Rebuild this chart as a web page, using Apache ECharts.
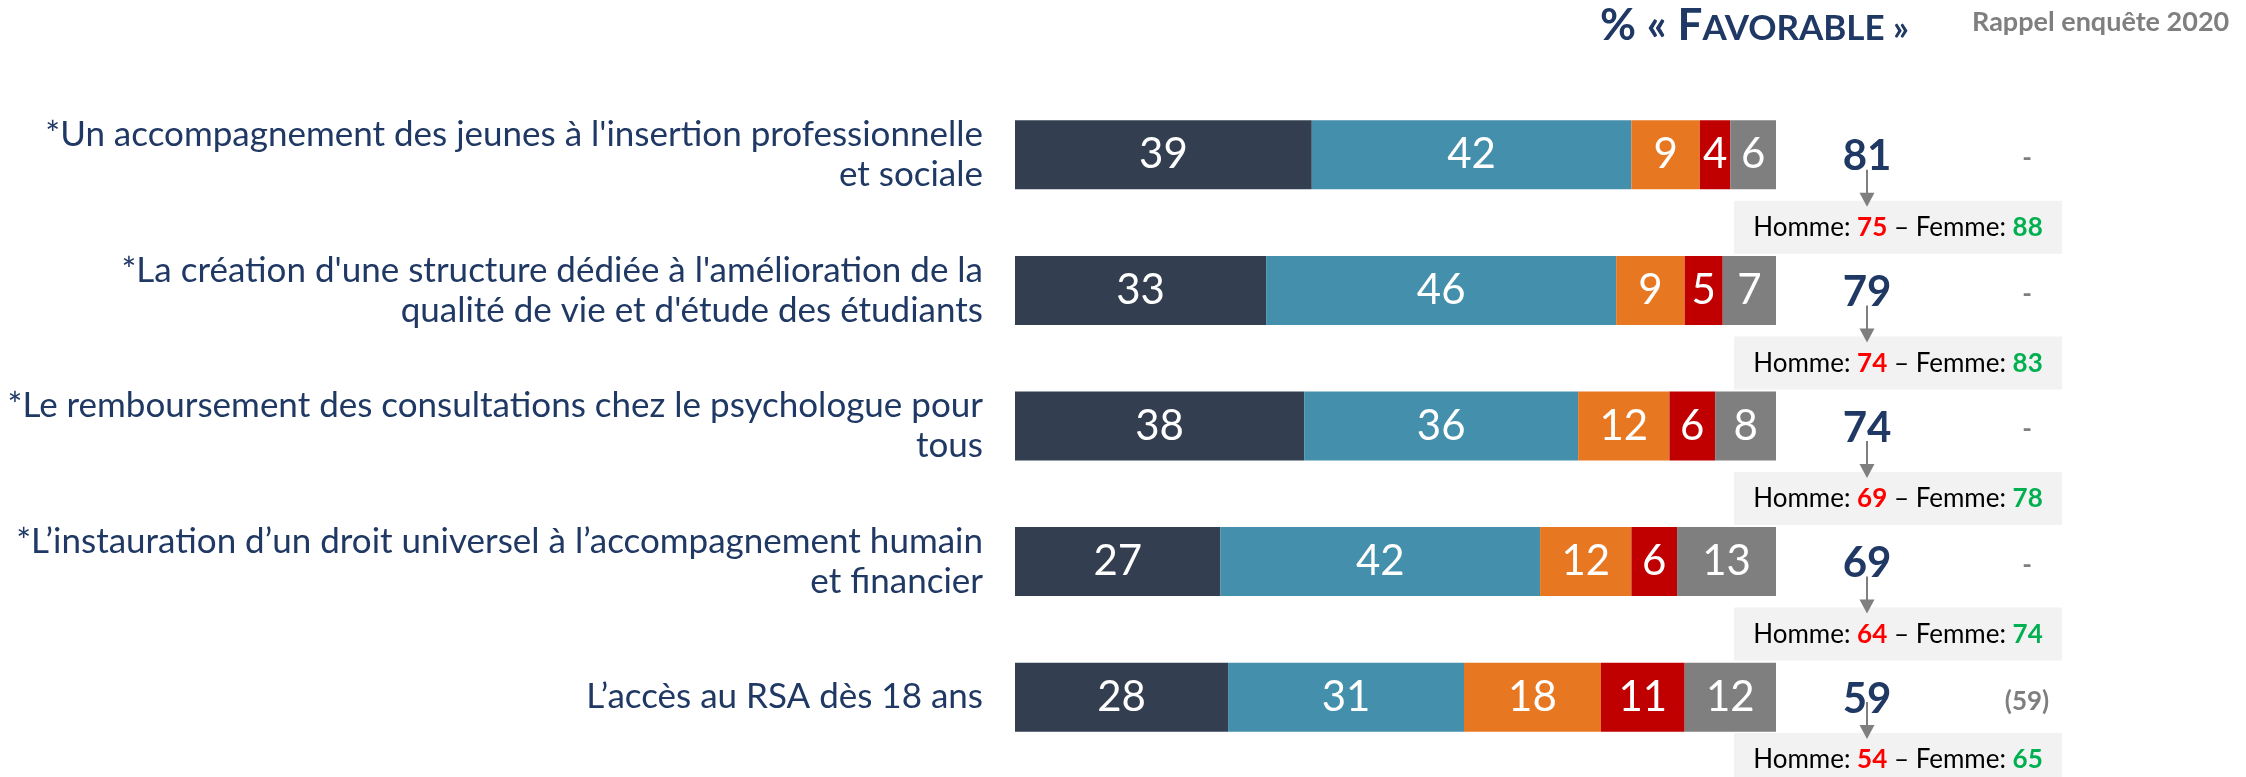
<!DOCTYPE html>
<html>
<head>
<meta charset="utf-8">
<script src="https://cdn.jsdelivr.net/npm/echarts@6/dist/echarts.min.js"></script>
<style>
html, body { margin: 0; padding: 0; background: #fff; }
#main { width: 2246px; height: 777px; }
</style>
</head>
<body>
<div id="main"></div>
<script>
// libellés des propositions
var categories = [
  "*Un accompagnement des jeunes à l'insertion professionnelle\net sociale",
  "*La création d'une structure dédiée à l'amélioration de la\nqualité de vie et d'étude des étudiants",
  "*Le remboursement des consultations chez le psychologue pour\ntous",
  "*L’instauration d’un droit universel à l’accompagnement humain\net financier",
  "L’accès au RSA dès 18 ans"
]
// répartition des réponses (%)
var tresFavorable = [39, 33, 38, 27, 28]
var plutotFavorable = [42, 46, 36, 42, 31]
var plutotDefavorable = [9, 9, 12, 12, 18]
var tresDefavorable = [4, 5, 6, 6, 11]
var nsp = [6, 7, 8, 13, 12]
// % favorable, rappel 2020, détail par sexe
var totalFavorable = [81, 79, 74, 69, 59]
var rappel2020 = ['-', '-', '-', '-', '(59)']
var homme = [75, 74, 69, 64, 54]
var femme = [88, 83, 78, 74, 65]

var FONT = 'Lato, "Open Sans", sans-serif'
var NAVY = '#1F3864'
var GREY = '#7F7F7F'

var myChart = echarts.init(document.getElementById('main'))

function barSerie(name, data, color) {
  return {
    name: name,
    type: 'bar',
    stack: 'total',
    barWidth: 69,
    data: data,
    itemStyle: { color: color },
    label: {
      show: true,
      position: 'inside',
      color: '#fff',
      fontFamily: FONT,
      fontSize: 42
    }
  }
}

// colonne de droite : % favorable + flèche + encadré Homme/Femme + rappel
function renderFavorable(params, api) {
  var i = params.dataIndex
  var end = api.coord([api.value(0), api.value(1)])
  var x = end[0], y = end[1]
  var numX = x + 91
  var boxTop = Math.min(y + 46, api.getHeight() - 44)
  var tip = boxTop + 6
  return {
    type: 'group',
    children: [
      {
        type: 'rect',
        shape: { x: x - 42, y: boxTop, width: 328, height: 53 },
        style: { fill: '#F2F2F2' }
      },
      {
        type: 'text',
        style: {
          x: x + 122, y: boxTop + 27,
          text: 'Homme: {r|' + homme[i] + '} – Femme: {g|' + femme[i] + '}',
          align: 'center', verticalAlign: 'middle',
          fill: '#000', fontFamily: FONT, fontSize: 26,
          rich: {
            r: { fill: '#FF0000', fontWeight: 'bold', fontFamily: FONT, fontSize: 26 },
            g: { fill: '#00B050', fontWeight: 'bold', fontFamily: FONT, fontSize: 26 }
          }
        }
      },
      {
        type: 'text',
        style: {
          x: numX, y: y + 2,
          text: String(api.value(2)),
          align: 'center', verticalAlign: 'middle',
          fill: NAVY, fontFamily: FONT, fontWeight: 'bold', fontSize: 42
        }
      },
      {
        type: 'line',
        shape: { x1: numX, y1: tip - 37, x2: numX, y2: tip - 12 },
        style: { stroke: GREY, lineWidth: 2 }
      },
      {
        type: 'polygon',
        shape: { points: [[numX - 7.5, tip - 14], [numX + 7.5, tip - 14], [numX, tip]] },
        style: { fill: GREY }
      },
      {
        type: 'text',
        style: {
          x: x + 251, y: y + 4,
          text: rappel2020[i],
          align: 'center', verticalAlign: 'middle',
          fill: GREY, fontFamily: FONT, fontWeight: 'bold', fontSize: 26
        }
      }
    ]
  }
}

var favData = totalFavorable.map(function (v, i) { return [100, i, v] })

myChart.setOption({
  animation: false,
  backgroundColor: '#fff',
  grid: { left: 1015, right: 470, top: 87, bottom: 12 },
  xAxis: { type: 'value', min: 0, max: 100, show: false },
  yAxis: {
    type: 'category',
    inverse: true,
    data: categories,
    axisLine: { show: false },
    axisTick: { show: false },
    splitLine: { show: false },
    axisLabel: {
      margin: 32,
      align: 'right',
      color: NAVY,
      fontFamily: FONT,
      fontSize: 35,
      lineHeight: 40,
      padding: [14, 0, 0, 0]
    }
  },
  graphic: [
    {
      type: 'text',
      left: 1600, top: 4,
      style: {
        text: '{a|% « F}{b|AVORABLE »}',
        fill: NAVY,
        rich: {
          a: { fontFamily: FONT, fontWeight: 'bold', fontSize: 44, fill: NAVY, verticalAlign: 'bottom', lineHeight: 44 },
          b: { fontFamily: FONT, fontWeight: 'bold', fontSize: 35, fill: NAVY, verticalAlign: 'bottom', lineHeight: 44, padding: [0, 0, 2, 0] }
        }
      }
    },
    {
      type: 'text',
      left: 1972, top: 9,
      style: {
        text: 'Rappel enquête 2020',
        fill: GREY,
        fontFamily: FONT, fontWeight: 'bold', fontSize: 27
      }
    }
  ],
  series: [
    barSerie('Tout à fait favorable', tresFavorable, '#333F50'),
    barSerie('Plutôt favorable', plutotFavorable, '#438FAC'),
    barSerie('Plutôt défavorable', plutotDefavorable, '#E87722'),
    barSerie('Tout à fait défavorable', tresDefavorable, '#C00000'),
    barSerie('Ne se prononce pas', nsp, '#7F7F7F'),
    {
      name: '% favorable',
      type: 'custom',
      data: favData,
      encode: { x: 0, y: 1 },
      renderItem: renderFavorable,
      z: 5
    }
  ]
})
</script>
</body>
</html>
